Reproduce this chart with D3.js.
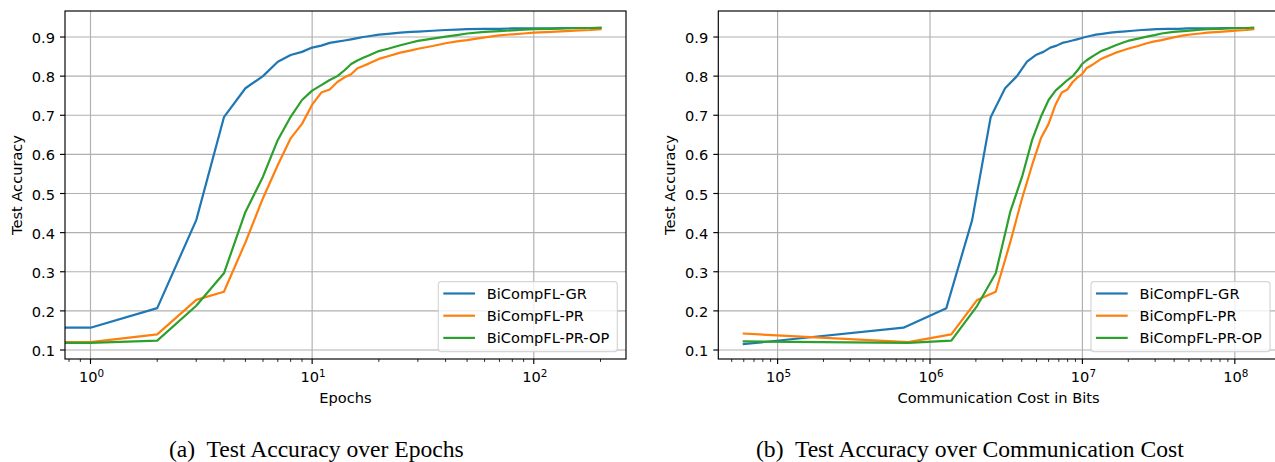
<!DOCTYPE html>
<meta charset="utf-8">
<style>
body { margin: 0; background: #fff; }
svg text { font-family: "DejaVu Sans", sans-serif; fill: #000; }
.caption { font-family: "Liberation Serif", serif; white-space: pre; }
</style>
<body>
<div id="chart"></div>
<script src="https://cdn.jsdelivr.net/npm/d3@7"></script>
<script>

var epochs = [0, 1, 2, 3, 4, 5, 6, 7, 8, 9, 10, 11, 12, 13, 14, 15, 16, 17, 18, 20, 22, 25, 28, 30,
              35, 40, 45, 50, 60, 70, 80, 90, 100, 120, 140, 160, 180, 200];

var accGR = [0.115, 0.157, 0.207, 0.432, 0.695, 0.769, 0.800, 0.837, 0.854, 0.862, 0.873, 0.878, 0.885,
             0.888, 0.891, 0.894, 0.897, 0.900, 0.902, 0.906, 0.908, 0.911, 0.913, 0.914, 0.916, 0.918,
             0.919, 0.920, 0.921, 0.921, 0.922, 0.922, 0.922, 0.922, 0.923, 0.923, 0.923, 0.923];

var accPR = [0.142, 0.120, 0.140, 0.228, 0.249, 0.375, 0.488, 0.573, 0.641, 0.678, 0.727, 0.758, 0.766,
             0.785, 0.797, 0.805, 0.820, 0.826, 0.832, 0.844, 0.851, 0.860, 0.866, 0.870, 0.877, 0.884,
             0.889, 0.892, 0.899, 0.904, 0.907, 0.909, 0.911, 0.913, 0.915, 0.917, 0.918, 0.920];

var accPROP = [0.122, 0.118, 0.124, 0.213, 0.296, 0.453, 0.543, 0.637, 0.696, 0.739, 0.763, 0.777, 0.790,
               0.800, 0.815, 0.831, 0.840, 0.847, 0.853, 0.864, 0.870, 0.879, 0.886, 0.890, 0.896, 0.901,
               0.905, 0.909, 0.913, 0.915, 0.917, 0.919, 0.920, 0.921, 0.922, 0.923, 0.923, 0.924];

// communication cost: initial bits + bits per epoch
var methods = ["BiCompFL-GR", "BiCompFL-PR", "BiCompFL-PR-OP"];
var colors = ["#1f77b4", "#ff7f0e", "#2ca02c"];
var initialBits = [6.0e4, 6.0e4, 6.0e4];
var bitsPerEpoch = [6.1e5, 6.6e5, 6.6e5];

var yTicks = [0.1, 0.2, 0.3, 0.4, 0.5, 0.6, 0.7, 0.8, 0.9];
var yLimits = [0.077, 0.9665];

var width = 1275, height = 462;
var fs = 14.6;

var svg = d3.select("#chart").append("svg")
    .attr("width", width)
    .attr("height", height);

var accs = [accGR, accPR, accPROP];

var seriesEpoch = methods.map(function(m, i) {
    return epochs.map(function(e, j) { return { x: e, y: accs[i][j] }; });
});
var seriesBits = methods.map(function(m, i) {
    return epochs.map(function(e, j) { return { x: initialBits[i] + bitsPerEpoch[i] * e, y: accs[i][j] }; });
});

function logLimits(series) {
    var xs = [];
    series.forEach(function(s) { s.forEach(function(d) { if (d.x > 0) xs.push(d.x); }); });
    var lo = Math.log10(d3.min(xs)), hi = Math.log10(d3.max(xs));
    var m = (hi - lo) * 0.05;
    return [Math.pow(10, lo - m), Math.pow(10, hi + m)];
}

function drawPanel(id, box, series, xlabel, caption, captionX) {
    var g = svg.append("g");
    var x = d3.scaleLog().domain(logLimits(series)).range([box.left, box.right]);
    var y = d3.scaleLinear().domain(yLimits).range([box.bottom, box.top]);

    g.append("clipPath").attr("id", "clip-" + id)
      .append("rect")
        .attr("x", box.left).attr("y", box.top)
        .attr("width", box.right - box.left).attr("height", box.bottom - box.top);

    var dom = x.domain();
    var lo = Math.floor(Math.log10(dom[0])), hi = Math.ceil(Math.log10(dom[1]));
    var major = [], minor = [];
    for (var p = lo; p <= hi; p++) {
        for (var k = 1; k < 10; k++) {
            var v = k * Math.pow(10, p);
            if (v < dom[0] || v > dom[1]) continue;
            if (k == 1) major.push(p); else minor.push(v);
        }
    }

    // grid
    g.selectAll("line.gx").data(major).enter().append("line")
        .attr("x1", function(p) { return x(Math.pow(10, p)); })
        .attr("x2", function(p) { return x(Math.pow(10, p)); })
        .attr("y1", box.top).attr("y2", box.bottom)
        .attr("stroke", "#b0b0b0").attr("stroke-width", 1.16);
    g.selectAll("line.gy").data(yTicks).enter().append("line")
        .attr("x1", box.left).attr("x2", box.right)
        .attr("y1", function(d) { return y(d); })
        .attr("y2", function(d) { return y(d); })
        .attr("stroke", "#b0b0b0").attr("stroke-width", 1.16);

    // lines (x = 0 clipped to a tiny positive value, like matplotlib)
    var line = d3.line()
        .x(function(d) { return x(Math.max(d.x, 1e-300)); })
        .y(function(d) { return y(d.y); });
    g.append("g").attr("clip-path", "url(#clip-" + id + ")")
      .selectAll("path").data(series).enter().append("path")
        .attr("d", line)
        .attr("fill", "none")
        .attr("stroke", function(d, i) { return colors[i]; })
        .attr("stroke-width", 2.2)
        .attr("stroke-linejoin", "round")
        .attr("stroke-linecap", "square");

    // frame
    g.append("rect")
        .attr("x", box.left).attr("y", box.top)
        .attr("width", box.right - box.left).attr("height", box.bottom - box.top)
        .attr("fill", "none").attr("stroke", "#000").attr("stroke-width", 1.16);

    // x ticks
    g.selectAll("line.mx").data(major).enter().append("line")
        .attr("x1", function(p) { return x(Math.pow(10, p)); })
        .attr("x2", function(p) { return x(Math.pow(10, p)); })
        .attr("y1", box.bottom).attr("y2", box.bottom + 5)
        .attr("stroke", "#000").attr("stroke-width", 1.16);
    g.selectAll("line.nx").data(minor).enter().append("line")
        .attr("x1", function(v) { return x(v); })
        .attr("x2", function(v) { return x(v); })
        .attr("y1", box.bottom).attr("y2", box.bottom + 2.9)
        .attr("stroke", "#000").attr("stroke-width", 0.85);
    var tl = g.selectAll("text.tx").data(major).enter().append("text")
        .attr("x", function(p) { return x(Math.pow(10, p)) + 1; })
        .attr("y", box.bottom + 22.7)
        .attr("text-anchor", "middle")
        .style("font-size", fs + "px");
    tl.append("tspan").text("10");
    tl.append("tspan").attr("dy", -4.6).style("font-size", "10.4px").text(function(p) { return p; });

    // y ticks
    g.selectAll("line.ty").data(yTicks).enter().append("line")
        .attr("x1", box.left - 5).attr("x2", box.left)
        .attr("y1", function(d) { return y(d); })
        .attr("y2", function(d) { return y(d); })
        .attr("stroke", "#000").attr("stroke-width", 1.16);
    g.selectAll("text.ty").data(yTicks).enter().append("text")
        .attr("x", box.left - 10)
        .attr("y", function(d) { return y(d) + 6; })
        .attr("text-anchor", "end")
        .style("font-size", fs + "px")
        .text(function(d) { return d.toFixed(1); });

    // axis labels
    g.append("text")
        .attr("x", (box.left + box.right) / 2).attr("y", box.bottom + 44)
        .attr("text-anchor", "middle")
        .style("font-size", fs + "px")
        .text(xlabel);
    g.append("text")
        .attr("transform", "translate(" + (box.left - 43.5) + "," + ((box.top + box.bottom) / 2) + ") rotate(-90)")
        .attr("text-anchor", "middle")
        .style("font-size", fs + "px")
        .text("Test Accuracy");

    // legend, lower right
    var lw = 179, lh = 70;
    var lx = box.right - 8.7 - lw, ly = box.bottom - 7.3 - lh;
    var lg = g.append("g");
    lg.append("rect")
        .attr("x", lx).attr("y", ly).attr("width", lw).attr("height", lh)
        .attr("rx", 3).attr("ry", 3)
        .attr("fill", "#fff").attr("fill-opacity", 0.8)
        .attr("stroke", "#cccccc").attr("stroke-opacity", 0.8).attr("stroke-width", 1.16);
    var items = lg.selectAll("g.item").data(methods).enter().append("g")
        .attr("transform", function(d, i) { return "translate(" + lx + "," + (ly + 11.8 + i * 22.2) + ")"; });
    items.append("line")
        .attr("x1", 5).attr("x2", 36.7).attr("y1", 0).attr("y2", 0)
        .attr("stroke", function(d, i) { return colors[i]; })
        .attr("stroke-width", 2.2);
    items.append("text")
        .attr("x", 48.4).attr("y", 5.3)
        .style("font-size", fs + "px")
        .text(function(d) { return d; });

    // sub caption
    svg.append("text")
        .attr("class", "caption")
        .attr("x", captionX).attr("y", 456.5)
        .style("font-size", "23.6px")
        .text(caption);
}

drawPanel("a", { left: 65, right: 626, top: 11, bottom: 359 }, seriesEpoch,
    "Epochs", "(a)  Test Accuracy over Epochs", 169);
drawPanel("b", { left: 718.3, right: 1278.7, top: 11, bottom: 359 }, seriesBits,
    "Communication Cost in Bits", "(b)  Test Accuracy over Communication Cost", 756);

</script>
